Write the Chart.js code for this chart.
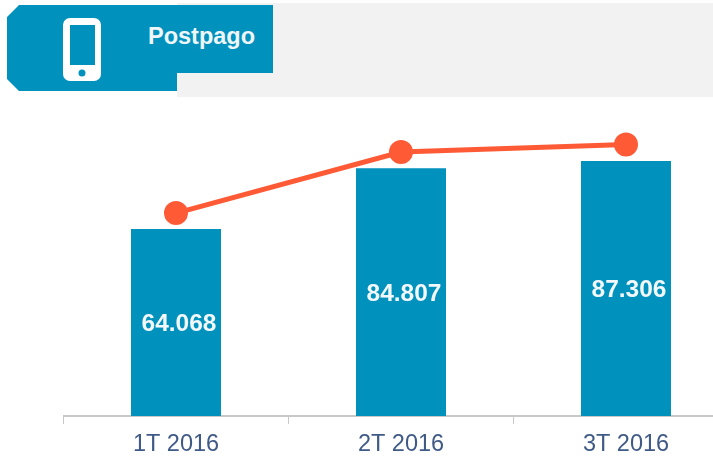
<!DOCTYPE html>
<html><head><meta charset="utf-8">
<script src="https://cdn.jsdelivr.net/npm/chart.js@4/dist/chart.umd.min.js"></script>
<style>
html,body{margin:0;padding:0;background:#fff;width:713px;height:458px;overflow:hidden;position:relative;font-family:"Liberation Sans",Arial,sans-serif}
#grey{position:absolute;left:177px;top:3px;width:536px;height:94px;background:#f2f2f2}
#tab{position:absolute;left:7px;top:5px;width:266px;height:86px;background:#0091bd;clip-path:polygon(12px 0,266px 0,266px 68px,170px 68px,170px 86px,12px 86px,0 74px,0 12px)}
#ttl{position:absolute;left:148px;top:23px;font-size:23.5px;font-weight:bold;color:#eef6f9;line-height:26px}
#ico{position:absolute;left:63px;top:18px}
canvas{position:absolute;left:0;top:0}
</style></head><body>
<div id="grey"></div><div id="tab"></div>
<svg id="ico" width="39" height="63" viewBox="0 0 39 63"><rect x="0" y="0" width="38" height="63" rx="7" fill="#fff"/><rect x="7" y="7" width="25" height="40" fill="#0091bd"/><circle cx="19" cy="55" r="3.5" fill="#0091bd"/></svg>
<div id="ttl">Postpago</div>
<canvas id="c" width="760" height="458"></canvas>
<script>
const categories=["1T 2016","2T 2016","3T 2016"];
const barValues=[64068,84807,87306];
const lineValues=[69500,90400,93000];
const barLabels=["64.068","84.807","87.306"];
const labelPlugin={id:"lbl",afterDatasetsDraw(ch){
  const c=ch.ctx,m=ch.getDatasetMeta(1);
  c.save();c.font='bold 24.5px "Liberation Sans"';c.fillStyle="#f2f8fb";c.textAlign="center";c.textBaseline="middle";
  m.data.forEach((b,i)=>{c.fillText(barLabels[i],b.x+3,(b.y+b.base)/2+2);});
  c.restore();
}};
new Chart(document.getElementById("c"),{
  data:{labels:categories,datasets:[
    {type:"line",data:lineValues,borderColor:"#ff5a36",backgroundColor:"#ff5a36",borderWidth:5,pointRadius:9.5,pointHoverRadius:9.5,tension:0,order:0},
    {type:"bar",data:barValues,backgroundColor:"#0091bd",barPercentage:0.4,categoryPercentage:1,order:1}
  ]},
  options:{responsive:false,animation:false,
    layout:{padding:{left:63.5,right:21.5,top:0,bottom:0}},
    plugins:{legend:{display:false},tooltip:{enabled:false}},
    scales:{
      y:{display:false,min:0,max:137500},
      x:{afterFit(s){s.height=42;},
         grid:{drawOnChartArea:false,drawTicks:true,tickLength:8,color:"#c8c8c8",tickColor:"#c8c8c8"},border:{color:"#c8c8c8",width:2},
         ticks:{color:"#3f5a86",font:{family:'"Liberation Sans"',size:23.5},padding:6,maxRotation:0}}
    }
  },
  plugins:[labelPlugin]
});
</script></body></html>
